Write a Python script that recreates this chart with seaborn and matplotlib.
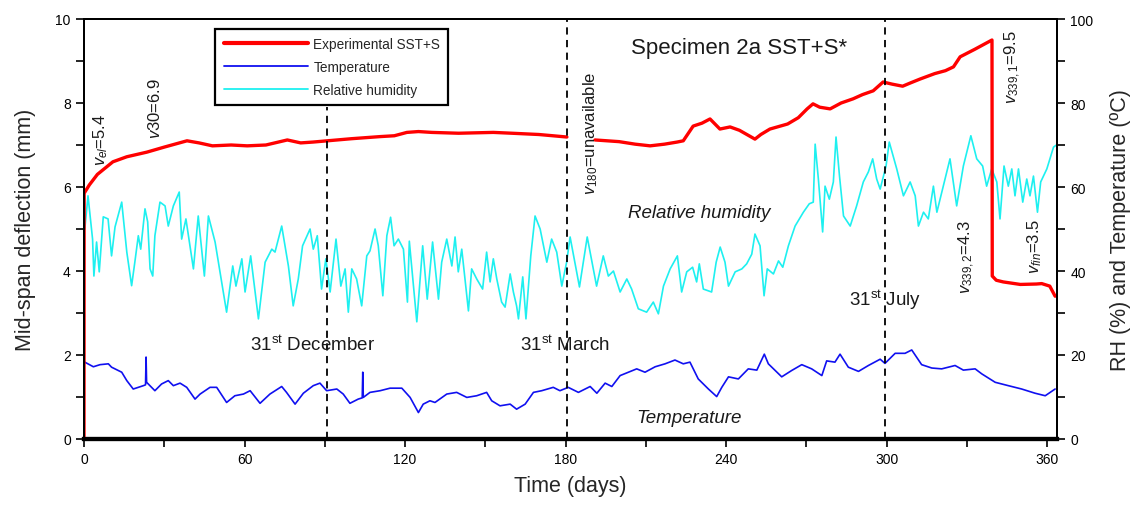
import numpy as np
import pandas as pd
import matplotlib
matplotlib.use("Agg")
import matplotlib.pyplot as plt
import seaborn as sns
from matplotlib.lines import Line2D
from matplotlib.ticker import MultipleLocator

# ---------------- data ----------------
# Mid-span deflection (mm), experimental SST+S; gap between day ~181 and ~191
defl_days_a = [0, 0.05, 2, 5, 10.8, 16, 23.5, 30, 38.5, 43, 48, 55, 61, 68, 76, 81, 85.6,
               91, 100, 110.7, 116, 120.7, 125, 130, 140, 153, 160, 170, 180.5]
defl_vals_a = [0, 5.85, 6.05, 6.3, 6.6, 6.72, 6.83, 6.95, 7.1, 7.05, 6.98, 7.0, 6.98, 7.0, 7.12, 7.05, 7.07,
               7.1, 7.15, 7.2, 7.22, 7.3, 7.32, 7.3, 7.28, 7.3, 7.28, 7.25, 7.19]
defl_days_b = [191, 200, 206, 211.6, 217, 221.7, 224, 227.7, 231, 234, 237.7, 241.5, 245, 250.8, 253,
               256.4, 263, 267, 270.3, 272.5, 275, 278.9, 283, 287.5, 291, 295, 298.7, 302, 306, 309,
               312.5, 318, 322, 325, 327.5, 333, 339.4, 339.5, 341, 343.6, 350, 356, 358, 361, 363]
defl_vals_b = [7.12, 7.08, 7.02, 6.98, 7.02, 7.07, 7.1, 7.45, 7.52, 7.62, 7.38, 7.43, 7.35, 7.14, 7.25,
               7.38, 7.5, 7.65, 7.86, 7.98, 7.9, 7.86, 8.0, 8.1, 8.2, 8.29, 8.5, 8.45, 8.4, 8.48,
               8.57, 8.7, 8.77, 8.86, 9.1, 9.28, 9.5, 3.88, 3.78, 3.74, 3.68, 3.69, 3.7, 3.64, 3.4]

# Relative humidity (%)
rh_days = [0.3, 1.5, 3.2, 3.7, 4.7, 5.7, 7.2, 9, 10.3, 11.6, 14.1, 16, 17.8, 19, 20.3, 21.2, 22.8, 23.8,
           24.7, 25.7, 26.5, 28.4, 30.3, 31.5, 33.4, 35.6, 36.5, 38.1, 40.9, 42.7, 45, 46.5, 49, 53.3,
           55.6, 56.8, 59, 60.2, 62.3, 65.2, 67.7, 70.2, 71.4, 73.9, 76.4, 78.2, 80.1, 81.7, 84.5, 85.7,
           87.2, 88.8, 90.4, 92, 94.2, 96, 97.6, 98.8, 100.1, 101.9, 103.8, 105.7, 106.9, 108.8, 110,
           111.7, 113.2, 114.6, 115.9, 117.5, 119.4, 120.9, 121.6, 124.4, 126.6, 128.3, 130.3, 132.5,
           133.7, 135.6, 137.5, 138.7, 139.9, 141.2, 143.7, 144.9, 146.8, 149, 150.5, 151.8, 153, 154.3,
           156.1, 157.4, 159.3, 160.5, 161.7, 162.4, 164, 165.2, 167, 168.6, 170.5, 173, 174.8, 176.7,
           178.6, 180.4, 181.7, 185.2, 188.1, 191.6, 194.1, 196, 197.9, 200.4, 202.9, 204.7, 207.2,
           210.3, 212.8, 214.7, 216.6, 219.1, 221.8, 223.4, 225.3, 227.5, 229, 230, 231.5, 234.6, 236.3,
           237.8, 239.6, 240.9, 243.4, 245.9, 247.7, 249.6, 250.8, 252.7, 254.2, 255.4, 257.7, 259.6,
           261.2, 263.3, 265.8, 268.9, 271.1, 272.6, 273.3, 274.5, 276.1, 277, 278.6, 280.1, 281.1,
           282.4, 283.9, 286.4, 288.8, 291.3, 293.2, 294.8, 296.3, 297.6, 299.8, 301, 303.8, 306.3,
           308.8, 310.7, 311.9, 313.8, 315.6, 317.5, 318.8, 321.2, 323.7, 326.2, 328.7, 331.5, 333.7,
           335.9, 337.4, 339.3, 341.2, 342.4, 343.9, 345.5, 346.8, 348, 349.3, 350.9, 352.4, 353.6,
           354.9, 356.4, 357.6, 359.9, 362.4, 363.5]
rh_vals = [50, 57.9, 47.6, 38.8, 46.9, 39.8, 52.9, 52.4, 43.6, 50.5, 56.4, 44.5, 36.5, 42.1, 48.4, 45.2,
           54.8, 51.7, 40.5, 38.8, 48.4, 56.4, 55.5, 50.7, 55.5, 58.8, 47.6, 52.4, 40.5, 53.1, 38.8, 53.1,
           46.9, 30.2, 41.2, 36.4, 42.9, 35, 43.6, 28.6, 42.1, 45.2, 44.5, 50.7, 41.2, 31.7, 38.1, 46,
           50, 45.2, 48.4, 35.7, 42.9, 35, 47.6, 36.4, 40.5, 30.2, 40.5, 38.1, 31.7, 43.6, 44.8, 50,
           46, 34.1, 48.4, 52.8, 46, 47.6, 45.2, 32.6, 47.1, 27.9, 46, 33.3, 46.9, 33.3, 42.1, 47.6,
           41.2, 48.1, 39.8, 45.2, 30.5, 40.5, 38.1, 35.7, 44.5, 37.4, 42.9, 38.1, 32.6, 31.4, 39.3,
           35, 31.7, 28.6, 38.6, 28.6, 43.6, 53.1, 50, 42.1, 47.6, 44.5, 36.4, 42.1, 48.1, 36.2, 48.1,
           36.4, 43.6, 38.8, 40, 35, 38.1, 35.7, 31, 30.2, 32.6, 29.8, 36.4, 40.5, 43.6, 35, 39.8, 40.9,
           37.4, 41.7, 35.7, 35, 42.1, 45.7, 42.1, 36.4, 39.8, 40.5, 41.7, 44, 48.8, 46, 34.1, 40.5,
           39.3, 42.4, 40.9, 46, 50.7, 54, 56, 56.4, 70.2, 61.9, 49.3, 60.2, 57.1, 61.2, 71.9, 62.6,
           53.1, 50.7, 55.5, 61.2, 63.6, 66.7, 61.9, 59.5, 65, 70.7, 64.3, 57.9, 61.2, 57.9, 50.7, 54,
           52.4, 60.2, 54, 60.2, 66.7, 55.5, 65, 72.2, 66.7, 65, 60.2, 64.3, 61.2, 52.4, 65, 60.2, 64.3,
           57.9, 64.3, 56.4, 61.9, 57.9, 62.6, 54, 61.2, 64.3, 69.5, 70]

# Temperature (deg C)
t_days = [0.3, 3.5, 6, 9.1, 10.3, 14.1, 16, 18.4, 22.2, 23.0, 23.2, 23.4, 26.5, 29, 31.5, 33.4, 35.9,
          38.4, 41.5, 43.4, 47.1, 49.6, 53.3, 56.4, 59.6, 62.1, 65.8, 69.5, 73.9, 75.7, 78.9, 82, 85.7,
          88.2, 90.7, 94.5, 96.9, 99.4, 102.5, 104.0, 104.2, 104.4, 106.9, 110.7, 114.4, 118.8, 121.9,
          125, 126.8, 129.3, 131.2, 135.6, 139.3, 143.1, 146.8, 150.5, 152.4, 155.5, 159.3, 161.7,
          164.9, 168, 171.1, 175.4, 177.9, 181, 184.8, 189.2, 191.7, 194.8, 197.3, 200.4, 206.6, 209.7,
          213.5, 217.2, 220.9, 224, 226.5, 229.6, 233.4, 236.5, 238.4, 240.9, 244.6, 248.3, 251.5,
          254.3, 255.8, 260.8, 264.5, 268.3, 272, 275.8, 277.6, 280.7, 282.6, 285.7, 289.5, 293.2,
          297.6, 299.4, 303.2, 306.9, 309.4, 313.1, 316.9, 320.6, 325.6, 328.7, 333.1, 335.6, 340.6,
          345.5, 350.5, 355.5, 359.3, 363]
t_vals = [18.3, 17.2, 17.7, 17.9, 17.1, 15.9, 13.9, 11.9, 12.7, 12.9, 19.5, 13.5, 11.5, 13.1, 13.9, 12.7,
          13.3, 12.3, 9.5, 10.7, 12.3, 12.3, 8.7, 10.3, 10.7, 11.5, 8.5, 10.7, 12.5, 11.1, 8.3, 10.9,
          12.7, 13.3, 11.5, 11.9, 10.7, 8.5, 9.5, 9.8, 15.9, 9.9, 11.1, 11.5, 12.1, 12.1, 9.9, 6.3, 8.3,
          9.1, 8.7, 10.7, 11.1, 9.9, 10.3, 11.1, 9.1, 7.9, 8.3, 7.1, 8.3, 11.1, 11.5, 12.3, 11.5, 12.3,
          11.1, 12.5, 10.9, 13.3, 12.5, 15.1, 16.7, 15.9, 17.2, 17.9, 18.8, 17.9, 18.3, 14.3, 11.9,
          10.1, 12.3, 14.8, 14.3, 16.7, 16.4, 20.2, 17.9, 14.8, 16.3, 17.7, 16.7, 15.1, 18.6, 18.3,
          20.2, 17.1, 16.1, 17.5, 19.0, 18.0, 20.4, 20.4, 21.2, 17.7, 16.9, 16.7, 17.5, 16.4, 16.7,
          15.5, 13.5, 12.7, 11.9, 10.9, 10.3, 11.9]

series_labels = ["Experimental SST+S", "Temperature", "Relative humidity"]
x_tick_labels = [0, 60, 120, 180, 240, 300, 360]
milestone_days = [91, 180.5, 299.5]

# ---------------- style ----------------
sns.set_style("ticks")
plt.rcParams['font.family'] = ['Liberation Sans', 'DejaVu Sans']
plt.rcParams['mathtext.fontset'] = 'custom'
plt.rcParams['mathtext.rm'] = 'Liberation Sans'
plt.rcParams['mathtext.it'] = 'Liberation Sans:italic'
plt.rcParams['mathtext.bf'] = 'Liberation Sans:bold'

RED = "#ff0000"
BLUE = "#1010f0"
CYAN = "#1ef0f0"
TXT = "#1a1a1a"

fig = plt.figure(figsize=(11.4, 5.06), dpi=100)
ax = fig.add_axes([84 / 1140, 1 - 440 / 506, (1057 - 84) / 1140, 420 / 506])
ax2 = ax.twinx()

# deflection data frame with segment ids (gap in the record)
defl_df = pd.DataFrame({
    "day": defl_days_a + defl_days_b,
    "mm": defl_vals_a + defl_vals_b,
    "seg": [0] * len(defl_days_a) + [1] * len(defl_days_b),
})

sns.lineplot(x=rh_days, y=rh_vals, ax=ax2, color=CYAN, lw=1.2, sort=False, estimator=None)
sns.lineplot(x=t_days, y=t_vals, ax=ax2, color=BLUE, lw=1.2, sort=False, estimator=None)
sns.lineplot(data=defl_df, x="day", y="mm", units="seg", estimator=None, sort=False,
             ax=ax, color=RED, lw=2.4)

ax.set_zorder(ax2.get_zorder() + 1)
ax.patch.set_visible(False)

# dashed milestone lines
ax.vlines(milestone_days[0], 0, 7.9, colors="black", linestyles=(0, (4, 3)), lw=1.3)
ax.vlines(milestone_days[1:], 0, 10, colors="black", linestyles=(0, (4, 3)), lw=1.3)

# axes limits & ticks
ax.set_xlim(0, 363.7)
ax.set_ylim(0, 10)
ax2.set_ylim(0, 100)
ax.set_xticks(x_tick_labels)
ax.xaxis.set_minor_locator(MultipleLocator(30))
ax.set_yticks([0, 2, 4, 6, 8, 10])
ax.yaxis.set_minor_locator(MultipleLocator(1))
ax2.set_yticks([0, 20, 40, 60, 80, 100])
ax2.yaxis.set_minor_locator(MultipleLocator(10))
for a in (ax, ax2):
    a.tick_params(which="both", direction="out", length=6, width=1.2, labelsize=10, colors="black")
    for s in a.spines.values():
        s.set_visible(True)
        s.set_linewidth(1.4)
        s.set_color("black")
    a.spines["bottom"].set_linewidth(3)
ax2.tick_params(axis="x", which="both", length=0)

ax.set_xlabel("Time (days)", fontsize=15.5, labelpad=6)
ax.set_ylabel("Mid-span deflection (mm)", fontsize=15.5, labelpad=14)
ax2.set_ylabel("RH (%) and Temperature (ºC)", fontsize=15.5, labelpad=12)

# legend
handles = [Line2D([], [], color=RED, lw=3), Line2D([], [], color=BLUE, lw=1.3),
           Line2D([], [], color=CYAN, lw=1.3)]
leg = ax.legend(handles, series_labels, loc="upper left", bbox_to_anchor=(0.128, 0.993),
                fontsize=9.8, handlelength=6.2, labelspacing=0.65, borderpad=0.6,
                fancybox=False, framealpha=1, edgecolor="black", handletextpad=0.4)
leg.get_frame().set_linewidth(1.6)

# annotations
ax.text(245, 9.33, "Specimen 2a SST+S*", fontsize=16, ha="center", va="center", color=TXT)
rot_kw = dict(rotation=90, ha="center", va="center", fontsize=12, color=TXT)
ax.text(6.4, 7.14, r"$v_{el}$=5.4", **rot_kw)
ax.text(26.5, 7.88, r"$v$30=6.9", **rot_kw)
ax.text(189.5, 7.31, r"$v_{180}$=unavailable", **rot_kw)
ax.text(347.3, 8.88, r"$v_{339,1}$=9.5", **rot_kw)
ax.text(330, 4.36, r"$v_{339,2}$=4.3", **rot_kw)
ax.text(355.5, 4.6, r"$v_{fin}$=3.5", **rot_kw)
ax.text(85.6, 2.26, r"31$^{\rm st}$ December", fontsize=13.5, ha="center", va="center", color=TXT)
ax.text(179.8, 2.26, r"31$^{\rm st}$ March", fontsize=13.5, ha="center", va="center", color=TXT)
ax.text(299.4, 3.33, r"31$^{\rm st}$ July", fontsize=13.5, ha="center", va="center", color=TXT)
ax.text(230, 5.4, "Relative humidity", fontsize=13.5, style="italic", ha="center", va="center", color=TXT)
ax.text(226, 0.52, "Temperature", fontsize=13.5, style="italic", ha="center", va="center", color=TXT)

fig.savefig("out.png", dpi=100, facecolor="white")
